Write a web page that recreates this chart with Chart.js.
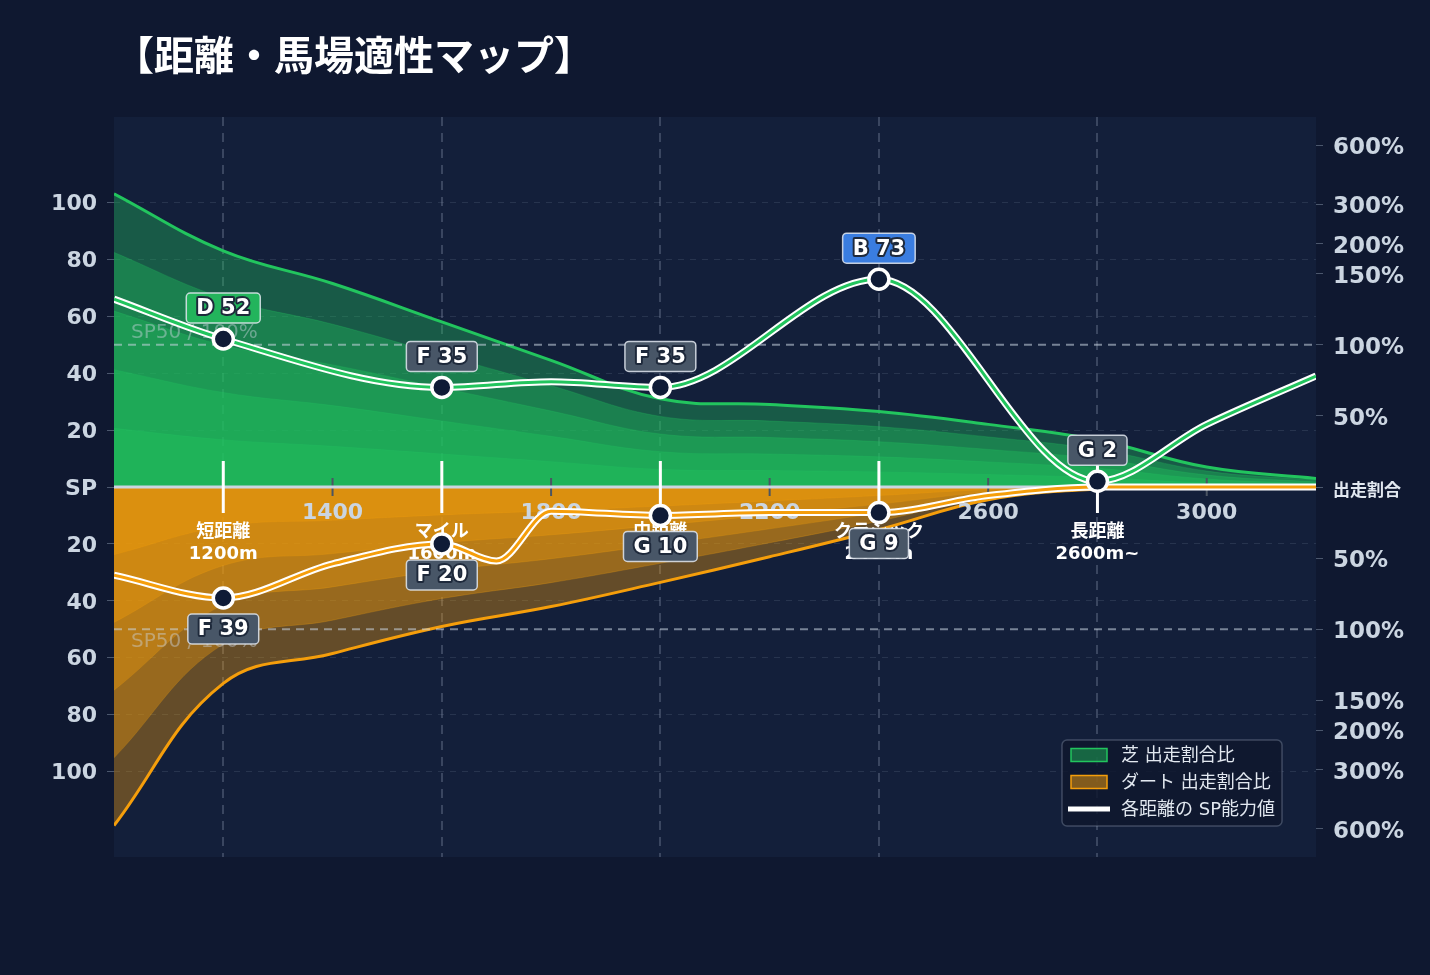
<!DOCTYPE html>
<html lang="ja">
<head>
<meta charset="utf-8">
<title>距離・馬場適性マップ</title>
<script src="https://cdn.jsdelivr.net/npm/chart.js@4.4.1/dist/chart.umd.min.js"></script>
<style>
  html, body { margin: 0; padding: 0; background: #0f1830; }
  canvas { display: block; }
</style>
</head>
<body>
<canvas id="mapChart" width="1430" height="975"></canvas>
<script>
// Categories on the distance axis
const categories = ['短距離', 'マイル', '中距離', 'クラシック', '長距離'];
const categoryDist = [1200, 1600, 2000, 2400, 2800];
const categoryRange = ['1200m', '1600m', '2000m', '2400m', '2600m~'];
const distTicks = [1400, 1800, 2200, 2600, 3000];

// SP at each category
const turfSP = [52, 35, 35, 73, 2];
const turfGrade = ['D', 'F', 'F', 'B', 'G'];
const dirtSP = [39, 20, 10, 9];
const dirtGrade = ['F', 'F', 'G', 'G'];

// SP curve across distances
const turfLineDist = [1000, 1200, 1600, 1800, 2000, 2400, 2800, 3000, 3200];
const turfLineSP = [66, 52, 35, 37, 35, 73, 2, 22, 39];
const dirtLineDist = [1000, 1200, 1400, 1600, 1700, 1800, 2000, 2200, 2400, 2600, 2800, 3000, 3200];
const dirtLineSP = [31, 39, 27, 20, 26, 8.5, 10, 9, 9, 3, 0, 0, 0];

// 出走割合比 (%)
const shareDist = [1000, 1200, 1400, 1600, 1800, 2000, 2200, 2400, 2600, 2800, 3000, 3200];
const turfShare = [354, 188, 143, 116, 89, 62, 58, 53, 44, 33, 14, 6];
const dirtShare = [585, 138, 117, 98, 84, 67, 49, 30, 9, 1.4, 0, 0];

// Axis ticks
const spTicks = [20, 40, 60, 80, 100];
const shareTicks = [50, 100, 150, 200, 300, 600];
const SP_GUIDE = 50;
const guideLabel = 'SP50 / 100%';

const FONT_LATIN = '"DejaVu Sans", "Noto Sans CJK JP", sans-serif';
const FONT_JP = '"Noto Sans CJK JP", sans-serif';

// share axis: linear up to 150%, compressed above (same height units as the SP axis)
const SHARE_STOPS = [0, 50, 100, 150, 200, 300, 600];
const AXIS_STOPS = [0, 25, 50, 75, 85.5, 99.3, 120];
function shareHeight(pct) {
  const s = pct < 0 ? -1 : 1, a = Math.abs(pct);
  let i = 1;
  while (i < SHARE_STOPS.length - 1 && a > SHARE_STOPS[i]) i++;
  const t = (a - SHARE_STOPS[i - 1]) / (SHARE_STOPS[i] - SHARE_STOPS[i - 1]);
  return s * (AXIS_STOPS[i - 1] + t * (AXIS_STOPS[i] - AXIS_STOPS[i - 1]));
}

const LAYERS = [1, 0.8, 0.6, 0.4, 0.2];
function areaLayers(shares, sign, rgb, lineColor, baseOrder) {
  return LAYERS.map((f, k) => ({
    type: 'line',
    yAxisID: 'y2',
    data: shareDist.map((d, i) => ({ x: d, y: sign * shareHeight(shares[i]) * f })),
    fill: 'origin',
    backgroundColor: `rgba(${rgb},0.36)`,
    borderColor: k === 0 ? lineColor : `rgba(${rgb},0.25)`,
    borderWidth: k === 0 ? 3 : 1,
    pointRadius: 0,
    tension: 0.4,
    order: baseOrder + k
  }));
}

const turfAreas = areaLayers(turfShare, 1, '34,197,94', '#22c55e', 50);
const dirtAreas = areaLayers(dirtShare, -1, '245,158,11', '#f59e0b', 40);
dirtAreas[LAYERS.length - 1].order = 40;
dirtAreas[0].order = 45;
dirtAreas[LAYERS.length - 1].midLayer = true;

function spLine(dist, values, sign, color, width, order) {
  return {
    type: 'line',
    data: dist.map((d, i) => ({ x: d, y: sign * values[i] })),
    borderColor: color,
    borderWidth: width,
    pointRadius: 0,
    fill: false,
    cubicInterpolationMode: 'monotone',
    order: order
  };
}

function spPoints(values, sign, grades, order) {
  return {
    type: 'line',
    showLine: false,
    data: values.map((v, i) => ({ x: categoryDist[i], y: sign * v })),
    pointRadius: 10,
    pointHoverRadius: 10,
    pointBackgroundColor: '#0f1b36',
    pointBorderColor: '#ffffff',
    pointBorderWidth: 3.5,
    badges: { grades: grades, values: values, dir: -sign },
    order: order
  };
}

const GRADE_COLORS = { B: '#3a7de0', D: '#23b45c' };

const backdrop = {
  id: 'backdrop',
  beforeDraw(chart) {
    const { ctx, chartArea: a } = chart;
    ctx.save();
    ctx.fillStyle = '#0f1830';
    ctx.fillRect(0, 0, chart.width, chart.height);
    ctx.fillStyle = '#131f3a';
    ctx.fillRect(a.left, a.top, a.right - a.left, a.bottom - a.top);
    ctx.fillStyle = '#ffffff';
    ctx.font = 'bold 40px ' + FONT_JP;
    ctx.textAlign = 'left';
    ctx.textBaseline = 'middle';
    ctx.fillText('【距離・馬場適性マップ】', a.left, 55);
    ctx.restore();
  }
};

function hLine(ctx, x1, y1, x2, y2) {
  ctx.beginPath();
  ctx.moveTo(x1, y1);
  ctx.lineTo(x2, y2);
  ctx.stroke();
}

const midLayer = {
  id: 'midLayer',
  afterDatasetDraw(chart, args) {
    if (!chart.data.datasets[args.index].midLayer) return;
    const { ctx, chartArea: a, scales: { x, y } } = chart;
    const y0 = y.getPixelForValue(0);
    ctx.save();

    // SP50 guides
    ctx.setLineDash([8, 6]);
    ctx.lineWidth = 2;
    ctx.strokeStyle = 'rgba(203,213,225,0.55)';
    [SP_GUIDE, -SP_GUIDE].forEach(v => {
      const py = y.getPixelForValue(v);
      hLine(ctx, a.left, py, a.right, py);
    });
    ctx.setLineDash([]);
    ctx.font = '20px ' + FONT_LATIN;
    ctx.fillStyle = 'rgba(203,213,225,0.45)';
    ctx.textAlign = 'left';
    ctx.textBaseline = 'alphabetic';
    ctx.fillText(guideLabel, a.left + 17, y.getPixelForValue(SP_GUIDE) - 7);
    ctx.fillText(guideLabel, a.left + 17, y.getPixelForValue(-SP_GUIDE) + 18);

    // distance tick marks
    ctx.strokeStyle = '#4b5563';
    ctx.lineWidth = 2;
    distTicks.forEach(d => {
      const px = x.getPixelForValue(d);
      hLine(ctx, px, y0 - 9, px, y0 + 9);
    });

    // centre line
    ctx.strokeStyle = '#cbd5e1';
    ctx.lineWidth = 3;
    hLine(ctx, a.left, y0, a.right, y0);

    // category markers
    ctx.strokeStyle = '#ffffff';
    ctx.lineWidth = 3;
    categoryDist.forEach(d => {
      const px = x.getPixelForValue(d);
      hLine(ctx, px, y0 - 26, px, y0 + 26);
    });

    ctx.textAlign = 'center';
    ctx.textBaseline = 'middle';
    ctx.font = 'bold 22px ' + FONT_LATIN;
    ctx.fillStyle = '#cbd5e1';
    distTicks.forEach(d => ctx.fillText(String(d), x.getPixelForValue(d), y0 + 26));

    ctx.font = 'bold 18px ' + FONT_LATIN;
    ctx.fillStyle = '#ffffff';
    categories.forEach((c, i) => {
      const px = x.getPixelForValue(categoryDist[i]);
      ctx.fillText(c, px, y0 + 45);
      ctx.fillText(categoryRange[i], px, y0 + 67);
    });
    ctx.restore();
  }
};

const badges = {
  id: 'badges',
  afterDatasetsDraw(chart) {
    const ctx = chart.ctx;
    chart.data.datasets.forEach((ds, di) => {
      if (!ds.badges) return;
      const meta = chart.getDatasetMeta(di);
      meta.data.forEach((pt, j) => {
        const text = ds.badges.grades[j] + ' ' + ds.badges.values[j];
        const bx = pt.x, by = pt.y + ds.badges.dir * 31;
        ctx.save();
        ctx.font = 'bold 21px ' + FONT_LATIN;
        const w = ctx.measureText(text).width + 20, h = 30;
        ctx.beginPath();
        ctx.roundRect(bx - w / 2, by - h / 2, w, h, 4);
        ctx.fillStyle = GRADE_COLORS[ds.badges.grades[j]] || '#485667';
        ctx.fill();
        ctx.lineWidth = 1.5;
        ctx.strokeStyle = 'rgba(226,232,240,0.85)';
        ctx.stroke();
        ctx.textAlign = 'center';
        ctx.textBaseline = 'middle';
        ctx.lineJoin = 'round';
        ctx.lineWidth = 4;
        ctx.strokeStyle = '#1e293b';
        ctx.strokeText(text, bx, by + 1);
        ctx.fillStyle = '#ffffff';
        ctx.fillText(text, bx, by + 1);
        ctx.restore();
      });
    });
  }
};

const legendBox = {
  id: 'legendBox',
  afterDraw(chart) {
    const { ctx, chartArea: a } = chart;
    const w = 220, h = 86;
    const lx = a.right - 34 - w, ly = a.bottom - 31 - h;
    ctx.save();
    ctx.beginPath();
    ctx.roundRect(lx, ly, w, h, 5);
    ctx.fillStyle = 'rgba(15,24,46,0.85)';
    ctx.fill();
    ctx.lineWidth = 1.5;
    ctx.strokeStyle = 'rgba(148,163,184,0.35)';
    ctx.stroke();

    const items = [
      { label: '芝 出走割合比', fill: 'rgba(34,197,94,0.45)', line: '#22c55e' },
      { label: 'ダート 出走割合比', fill: 'rgba(245,158,11,0.5)', line: '#f59e0b' },
      { label: '各距離の SP能力値', stroke: '#ffffff' }
    ];
    ctx.font = '18px ' + FONT_LATIN;
    ctx.textAlign = 'left';
    ctx.textBaseline = 'middle';
    items.forEach((it, i) => {
      const cy = ly + 15 + i * 27;
      if (it.stroke) {
        ctx.strokeStyle = it.stroke;
        ctx.lineWidth = 5;
        hLine(ctx, lx + 6, cy, lx + 48, cy);
      } else {
        ctx.fillStyle = it.fill;
        ctx.fillRect(lx + 9, cy - 6.5, 36, 13);
        ctx.strokeStyle = it.line;
        ctx.lineWidth = 1.5;
        ctx.strokeRect(lx + 9, cy - 6.5, 36, 13);
      }
      ctx.fillStyle = '#e2e8f0';
      ctx.fillText(it.label, lx + 59, cy + 1);
    });
    ctx.restore();
  }
};

const tickFont = { family: FONT_LATIN, size: 22, weight: 'bold' };
const shareFont = { family: FONT_LATIN, size: 23, weight: 'bold' };

new Chart(document.getElementById('mapChart'), {
  type: 'line',
  data: {
    datasets: [
      ...turfAreas,
      ...dirtAreas,
      spLine(dirtLineDist, dirtLineSP, -1, '#ffffff', 7, 14),
      spLine(dirtLineDist, dirtLineSP, -1, '#f59e0b', 3, 13),
      spLine(turfLineDist, turfLineSP, 1, '#ffffff', 7, 12),
      spLine(turfLineDist, turfLineSP, 1, '#22c55e', 3, 11),
      spPoints(dirtSP, -1, dirtGrade, 2),
      spPoints(turfSP, 1, turfGrade, 1)
    ]
  },
  options: {
    responsive: false,
    animation: false,
    events: [],
    layout: { padding: { top: 117, bottom: 118, left: 0, right: 0 } },
    plugins: {
      legend: { display: false },
      tooltip: { enabled: false },
      title: { display: false }
    },
    scales: {
      x: {
        type: 'linear',
        min: 1000,
        max: 3200,
        afterBuildTicks: s => { s.ticks = categoryDist.map(v => ({ value: v })); },
        afterFit: s => { s.height = 0; },
        ticks: { display: false },
        grid: { color: 'rgba(148,163,184,0.3)', lineWidth: 2, drawTicks: false },
        border: { display: false, dash: [9, 7] }
      },
      y: {
        type: 'linear',
        position: 'left',
        min: -130,
        max: 130,
        afterBuildTicks: s => {
          s.ticks = [...spTicks.slice().reverse().map(v => -v), 0, ...spTicks].map(v => ({ value: v }));
        },
        afterFit: s => { s.width = 114; },
        ticks: {
          autoSkip: false,
          padding: 10,
          labelOffset: 2,
          color: '#cbd5e1',
          font: tickFont,
          callback: v => (v === 0 ? 'SP' : String(Math.abs(v)))
        },
        grid: {
          color: c => (c.tick && c.tick.value === 0 ? 'rgba(0,0,0,0)' : 'rgba(148,163,184,0.16)'),
          lineWidth: 1,
          tickLength: 7,
          tickColor: 'rgba(148,163,184,0.45)'
        },
        border: { display: false, dash: [6, 6] }
      },
      y2: {
        type: 'linear',
        position: 'right',
        min: -130,
        max: 130,
        afterBuildTicks: s => {
          s.ticks = [...shareTicks.slice().reverse().map(p => -p), 0, ...shareTicks]
            .map(p => ({ value: shareHeight(p), pct: p }));
        },
        afterFit: s => { s.width = 114; },
        ticks: {
          autoSkip: false,
          padding: 10,
          labelOffset: 3,
          color: c => (c.tick && c.tick.value === 0 ? '#e2e8f0' : '#cbd5e1'),
          font: c => (c.tick && c.tick.value === 0
            ? { family: FONT_JP, size: 17, weight: 'bold' }
            : shareFont),
          callback: (v, i, ticks) => {
            const p = ticks[i].pct;
            return p === 0 ? '出走割合' : Math.abs(p) + '%';
          }
        },
        grid: {
          drawOnChartArea: false,
          tickLength: 7,
          tickColor: 'rgba(148,163,184,0.45)'
        },
        border: { display: false }
      }
    }
  },
  plugins: [backdrop, midLayer, badges, legendBox]
});
</script>
</body>
</html>
